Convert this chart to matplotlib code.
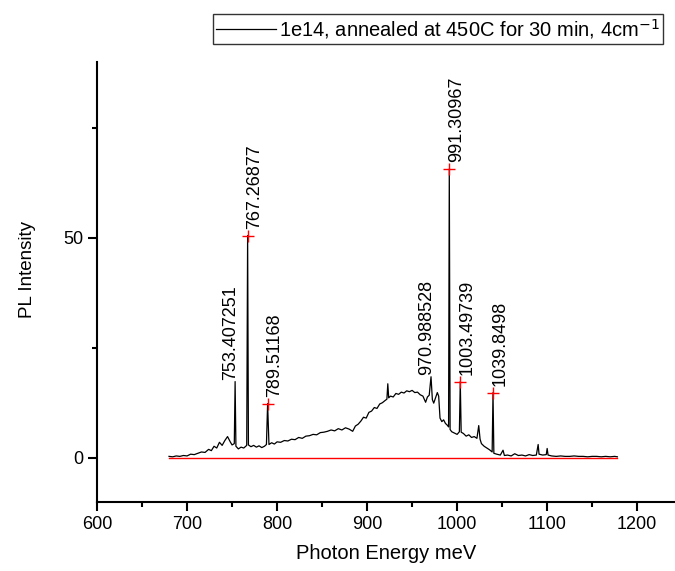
import matplotlib
matplotlib.use("Agg")
import matplotlib.pyplot as plt
from matplotlib.ticker import MultipleLocator

plt.rcParams['font.family'] = ['Liberation Sans', 'DejaVu Sans']

# ---- data ----
energy = [680, 684, 688, 692, 696, 700, 704, 708, 712, 716, 720, 724, 727, 730, 733, 736, 739,
          742, 745, 748, 750, 752.5, 753.4, 754.3, 757, 760, 763, 766.3, 767.3, 768.2, 771, 774,
          777, 780, 783, 786, 788.2, 789.5, 791, 794, 797, 800, 804, 808, 812, 816, 820, 824,
          828, 832, 836, 840, 844, 848, 852, 856, 860, 864, 868, 872, 876, 880, 884, 887, 890,
          893, 896, 899, 902, 905, 908, 911, 914, 917, 920, 922, 923, 924, 926, 929, 932, 935,
          938, 941, 944, 947, 950, 953, 956, 959, 962, 965, 967, 969, 971, 972.5, 974, 976,
          978, 979.5, 981, 983, 985, 987, 989, 990.5, 991.3, 992.2, 994, 997, 1000, 1002.5,
          1003.5, 1004.5, 1007, 1010, 1013, 1016, 1019, 1022, 1024, 1025.5, 1027, 1030, 1033,
          1036, 1038.9, 1039.85, 1040.8, 1044, 1048, 1051, 1052.5, 1056, 1060, 1064, 1068,
          1072, 1076, 1080, 1084, 1088, 1090, 1091, 1095, 1099, 1100, 1101, 1105, 1110, 1115,
          1120, 1125, 1130, 1135, 1140, 1145, 1150, 1155, 1160, 1165, 1170, 1175, 1178]
intensity = [0.3, 0.2, 0.4, 0.3, 0.5, 0.4, 0.8, 0.7, 1.0, 1.3, 1.2, 1.9, 1.6, 2.6, 2.2, 3.5, 2.8,
             3.9, 4.8, 3.6, 2.9, 3.2, 17.3, 2.6, 2.0, 2.4, 2.2, 2.8, 50.5, 2.9, 2.5, 2.8,
             2.4, 2.7, 2.3, 2.6, 3.0, 12.3, 3.0, 3.4, 3.1, 3.6, 3.5, 3.9, 3.8, 4.2, 4.1, 4.6,
             4.4, 4.9, 5.0, 5.3, 5.2, 5.7, 5.8, 6.0, 6.3, 6.1, 6.6, 6.3, 6.8, 6.5, 6.0, 7.2, 7.6,
             8.3, 9.2, 9.0, 10.3, 10.6, 11.4, 11.2, 12.2, 12.5, 13.0, 13.3, 16.8, 13.6, 14.0, 13.8, 14.6, 14.4,
             14.9, 14.7, 15.2, 15.0, 15.3, 14.8, 14.9, 14.3, 14.0, 12.6, 13.8, 14.2, 18.4, 13.2, 12.4, 13.6,
             14.8, 14.0, 9.0, 8.2, 8.6, 7.8, 7.4, 7.0, 65.6, 6.4, 5.9, 5.6, 5.3, 5.9,
             17.3, 5.8, 5.5, 4.9, 5.2, 4.6, 4.8, 4.4, 7.3, 4.2, 3.2, 2.6, 2.2,
             1.8, 1.3, 14.8, 1.0, 0.8, 0.6, 1.7, 0.5, 0.6, 0.4, 0.9, 0.5,
             0.6, 0.4, 0.7, 0.5, 0.6, 3.0, 0.8, 0.6, 0.7, 2.1, 0.6, 0.4, 0.3, 0.4,
             0.3, 0.3, 0.4, 0.3, 0.3, 0.2, 0.3, 0.3, 0.2, 0.3, 0.2, 0.3, 0.2]

baseline_x = [680, 1178]
baseline_y = [0, 0]

peak_labels = ["753.407251", "767.26877", "789.51168", "970.988528",
               "991.30967", "1003.49739", "1039.8498"]
peak_x = [753.407251, 767.26877, 789.51168, 970.988528, 991.30967, 1003.49739, 1039.8498]
peak_y = [17.3, 50.5, 12.3, 18.4, 65.6, 17.3, 14.8]
peak_marked = [False, True, True, False, True, True, True]

legend_label = "1e14, annealed at 450C for 30 min, 4cm$^{-1}$"
xlabel = "Photon Energy meV"
ylabel = "PL Intensity"

# ---- figure ----
fig = plt.figure(figsize=(6.75, 5.71), dpi=100)
ax = fig.add_axes([97/675, 69.3/571, 578/675, 440/571])

line, = ax.plot(energy, intensity, color='black', lw=0.9, label=legend_label)
ax.plot(baseline_x, baseline_y, color='red', lw=1.0)

mx = [x for x, m in zip(peak_x, peak_marked) if m]
my = [y for y, m in zip(peak_y, peak_marked) if m]
ax.plot(mx, my, linestyle='none', marker='+', color='red', ms=9, mew=1.0)

for lab, x, y, m in zip(peak_labels, peak_x, peak_y, peak_marked):
    if m:
        ax.annotate(lab, (x, y), xytext=(-1, 5), textcoords='offset points',
                    rotation=90, ha='left', va='bottom', fontsize=13)
    else:
        ax.annotate(lab, (x, y), xytext=(-3, 1), textcoords='offset points',
                    rotation=90, ha='center', va='bottom', fontsize=13)

ax.set_xlim(600, 1242)
ax.set_ylim(-10, 90)
ax.xaxis.set_major_locator(MultipleLocator(100))
ax.xaxis.set_minor_locator(MultipleLocator(50))
ax.set_yticks([0, 50])
ax.set_yticks([25, 75], minor=True)

for s in ['top', 'right']:
    ax.spines[s].set_visible(False)
for s in ['left', 'bottom']:
    ax.spines[s].set_linewidth(1.5)

ax.tick_params(which='major', direction='out', length=6.5, width=1.5, labelsize=13)
ax.tick_params(which='minor', direction='out', length=3.6, width=1.5)

ax.set_xlabel(xlabel, fontsize=14.5, labelpad=8)
ax.set_ylabel(ylabel, fontsize=13.5)
ax.yaxis.set_label_coords(-0.105, 0.527)

leg = fig.legend(handles=[line], loc='upper left', bbox_to_anchor=(213/675, 1 - 14/571),
                 fontsize=14.5, frameon=True, fancybox=False, edgecolor='black',
                 handlelength=3.0, handletextpad=0.15, borderpad=0.15, borderaxespad=0)
leg.get_frame().set_linewidth(1.0)

fig.savefig("out.png", dpi=100)
